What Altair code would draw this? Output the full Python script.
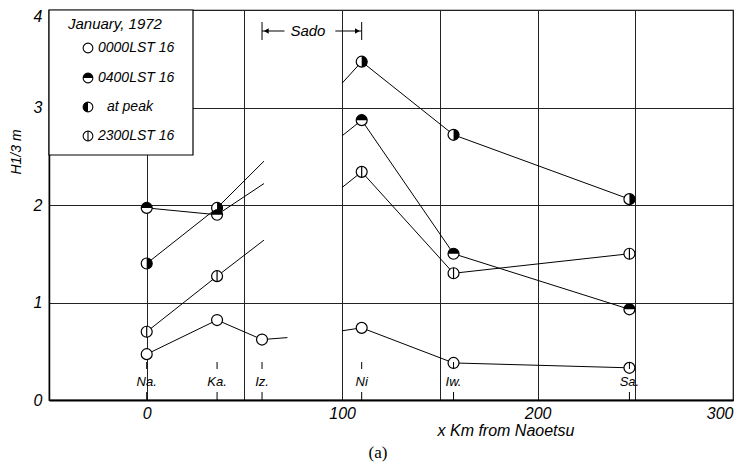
import altair as alt
import pandas as pd

# ---------------- data ----------------
stations = ["Na.", "Ka.", "Iz.", "Ni", "Iw.", "Sa."]
station_x = [0, 36, 59, 110, 157, 247]

series_keys = ["s0000", "s0400", "peak", "s2300"]
series_labels = ["0000LST  16", "0400LST  16", "at peak", "2300LST  16"]

# observed points (x in km from Naoetsu, H1/3 in m)
s0000_x = [0, 36, 59, 110, 157, 247]
s0000_y = [0.47, 0.82, 0.62, 0.74, 0.38, 0.33]
s0400_x = [0, 36, 110, 157, 247]
s0400_y = [1.97, 1.90, 2.87, 1.50, 0.93]
peak_x = [0, 36, 110, 157, 247]
peak_y = [1.40, 1.97, 3.47, 2.72, 2.06]
s2300_x = [0, 36, 110, 157, 247]
s2300_y = [0.70, 1.27, 2.34, 1.30, 1.50]

# line stubs running into / out of the Sado gap
stub_end_x = [72, 60, 60, 60]
stub_end_y = [0.64, 2.22, 2.45, 1.64]
stub_start_x = [100, 100, 100, 100]
stub_start_y = [0.71, 2.71, 3.25, 2.18]

# Sado annotation extent (km)
sado_from = 59
sado_to = 110
sado_text_x = 82.5

# ---------------- tables ----------------
pts = {"s0000": (s0000_x, s0000_y), "s0400": (s0400_x, s0400_y),
       "peak": (peak_x, peak_y), "s2300": (s2300_x, s2300_y)}

point_rows, line_rows = [], []
for i, k in enumerate(series_keys):
    xs, ys = pts[k]
    for x, y in zip(xs, ys):
        point_rows.append({"series": k, "x": x, "y": y})
    seg1 = [(x, y) for x, y in zip(xs, ys) if x < 100] + [(stub_end_x[i], stub_end_y[i])]
    seg2 = [(stub_start_x[i], stub_start_y[i])] + [(x, y) for x, y in zip(xs, ys) if x >= 100]
    for j, seg in enumerate([seg1, seg2]):
        for n, (x, y) in enumerate(seg):
            line_rows.append({"seg": f"{k}_{j}", "x": x, "y": y, "o": n})

points_df = pd.DataFrame(point_rows)
lines_df = pd.DataFrame(line_rows)
stations_df = pd.DataFrame({"name": stations, "x": station_x})

FONT = "Liberation Sans"
TOP_HALF = "M -1 0 A 1 1 0 0 1 1 0 Z"
RIGHT_HALF = "M 0 -1 A 1 1 0 0 1 0 1 Z"
LEFT_HALF = "M 0 -1 A 1 1 0 0 0 0 1 Z"
VBAR = "M 0 -1 L 0 1"

xscale = alt.Scale(domain=[-50, 300], nice=False, zero=False)
yscale = alt.Scale(domain=[0, 4], nice=False, zero=True)

xaxis = alt.Axis(values=[-50, 0, 50, 100, 150, 200, 250, 300],
                 labelExpr="datum.value % 100 == 0 ? datum.label : ''",
                 grid=True, gridColor="#222", gridWidth=1, gridOpacity=1,
                 domainColor="black", domainWidth=2.2, ticks=False,
                 labelFont=FONT, labelFontStyle="italic", labelFontSize=16,
                 labelColor="black", labelPadding=5, title=None)
yaxis = alt.Axis(values=[0, 1, 2, 3, 4], grid=True, gridColor="#222",
                 gridWidth=1, gridOpacity=1, domainColor="black",
                 domainWidth=1.5, ticks=False, labelFont=FONT,
                 labelFontStyle="italic", labelFontSize=16, labelColor="black",
                 labelPadding=7,
                 labelBaseline={"condition": {"test": "datum.value == 4", "value": "top"},
                                "value": "middle"},
                 labelOffset={"condition": {"test": "datum.value == 4", "value": -2},
                              "value": 0},
                 title=None)

X = alt.X("x:Q", scale=xscale, axis=xaxis)
Y = alt.Y("y:Q", scale=yscale, axis=yaxis)

lines = alt.Chart(lines_df).mark_line(color="black", strokeWidth=1).encode(
    x=X, y=Y, detail="seg:N", order="o:Q")

PSIZE = 120
base_pts = alt.Chart(points_df).mark_point(
    shape="circle", filled=True, fill="white", stroke="black",
    strokeWidth=1.2, size=PSIZE, opacity=1).encode(x=X, y=Y)
top_pts = alt.Chart(points_df).transform_filter("datum.series == 's0400'").mark_point(
    shape=TOP_HALF, filled=True, color="black", size=PSIZE, opacity=1).encode(x=X, y=Y)
peak_pts = alt.Chart(points_df).transform_filter("datum.series == 'peak'").mark_point(
    shape=RIGHT_HALF, filled=True, color="black", size=PSIZE, opacity=1).encode(x=X, y=Y)
bar_pts = alt.Chart(points_df).transform_filter("datum.series == 's2300'").mark_point(
    shape=VBAR, filled=False, stroke="black", strokeWidth=1.2, size=PSIZE,
    opacity=1).encode(x=X, y=Y)

# station labels with small ticks
st_text = alt.Chart(stations_df).mark_text(
    font=FONT, fontStyle="italic", fontSize=13, color="black",
    baseline="middle", align="center").encode(
    x=X, y=alt.value(372), text="name:N")
st_tick_up = alt.Chart(stations_df).mark_rule(color="black", strokeWidth=1).encode(
    x=X, y=alt.value(352), y2=alt.value(359))
st_tick_dn = alt.Chart(stations_df).mark_rule(color="black", strokeWidth=1).encode(
    x=X, y=alt.value(382), y2=alt.value(390))

# Sado annotation
sado_df = pd.DataFrame({"x": [sado_from, sado_to]})
sado_bars = alt.Chart(sado_df).mark_rule(color="black", strokeWidth=1).encode(
    x=X, y=alt.value(12), y2=alt.value(30))
arrows_df = pd.DataFrame({"x": [sado_from, sado_to - 13.5],
                          "x2": [sado_from + 11.5, sado_to]})
sado_arrows = alt.Chart(arrows_df).mark_rule(color="black", strokeWidth=1).encode(
    x=X, x2="x2:Q", y=alt.value(21))
heads_df = pd.DataFrame({"x": [sado_from + 2.2, sado_to - 2.2],
                         "shape": ["triangle-left", "triangle-right"]})
sado_heads = alt.Chart(heads_df).mark_point(filled=True, color="black",
                                            size=30, opacity=1).encode(
    x=X, y=alt.value(21),
    shape=alt.Shape("shape:N", scale=None))
sado_text = alt.Chart(pd.DataFrame({"x": [sado_text_x], "t": ["Sado"]})).mark_text(
    font=FONT, fontStyle="italic", fontSize=15, color="black",
    baseline="middle", align="center").encode(x=X, y=alt.value(21), text="t:N")

# legend box (manual, to allow half-filled symbols)
legend_box = alt.Chart(pd.DataFrame({"a": [0]})).mark_rect(
    fill="white", stroke="black", strokeWidth=1.2).encode(
    x=alt.value(0), x2=alt.value(144), y=alt.value(0), y2=alt.value(145))
leg_df = pd.DataFrame({"series": series_keys, "label": series_labels,
                       "ly": [38, 68, 97, 126],
                       "lx": [49, 49, 58, 49]})
leg_title = alt.Chart(pd.DataFrame({"t": ["January, 1972"]})).mark_text(
    font=FONT, fontStyle="italic", fontSize=15, color="black",
    align="left", baseline="middle").encode(
    x=alt.value(19), y=alt.value(14), text="t:N")
LY = alt.Y("ly:Q", scale=None)
LSIZE = 95
leg_base = alt.Chart(leg_df).mark_point(
    shape="circle", filled=True, fill="white", stroke="black",
    strokeWidth=1.1, size=LSIZE, opacity=1).encode(x=alt.value(39), y=LY)
leg_top = alt.Chart(leg_df).transform_filter("datum.series == 's0400'").mark_point(
    shape=TOP_HALF, filled=True, color="black", size=LSIZE, opacity=1).encode(
    x=alt.value(39), y=LY)
leg_peak = alt.Chart(leg_df).transform_filter("datum.series == 'peak'").mark_point(
    shape=LEFT_HALF, filled=True, color="black", size=LSIZE, opacity=1).encode(
    x=alt.value(39), y=LY)
leg_bar = alt.Chart(leg_df).transform_filter("datum.series == 's2300'").mark_point(
    shape=VBAR, filled=False, stroke="black", strokeWidth=1.1, size=LSIZE,
    opacity=1).encode(x=alt.value(39), y=LY)
leg_text = alt.Chart(leg_df).mark_text(
    font=FONT, fontStyle="italic", fontSize=14, color="black",
    align="left", baseline="middle").encode(
    x=alt.X("lx:Q", scale=None), y=LY, text="label:N")

# axis titles and caption
titles_df = pd.DataFrame({"t": ["x Km   from Naoetsu"]})
x_title = alt.Chart(titles_df).mark_text(
    font=FONT, fontStyle="italic", fontSize=16, color="black",
    align="center", baseline="middle").encode(
    x=alt.value(457), y=alt.value(421), text="t:N")
y_title = alt.Chart(pd.DataFrame({"t": ["H1/3  m"]})).mark_text(
    font=FONT, fontStyle="italic", fontSize=14, color="black", angle=270,
    align="center", baseline="middle").encode(
    x=alt.value(-32), y=alt.value(142), text="t:N")
caption = alt.Chart(pd.DataFrame({"t": ["(a)"]})).mark_text(
    font="Liberation Serif", fontSize=17, color="black",
    align="center", baseline="middle").encode(
    x=alt.value(329), y=alt.value(443), text="t:N")

chart = alt.layer(
    lines, base_pts, top_pts, peak_pts, bar_pts,
    st_tick_up, st_tick_dn, st_text,
    sado_bars, sado_arrows, sado_heads, sado_text,
    legend_box, leg_title, leg_base, leg_top, leg_peak, leg_bar, leg_text,
    x_title, y_title, caption,
).properties(
    width=684, height=390,
    autosize=alt.AutoSizeParams(type="none"),
    padding={"left": 41, "top": 2, "right": 7, "bottom": 63},
    background="white",
).configure_view(stroke="black", strokeWidth=1.2)

chart.save("out.html", embed_options={"renderer": "svg", "actions": False})
